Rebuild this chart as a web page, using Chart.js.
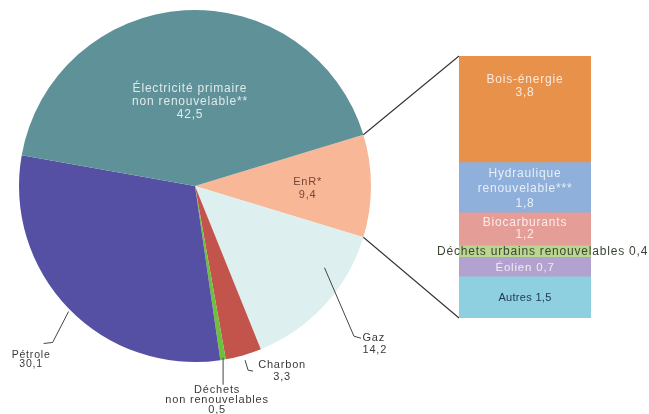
<!DOCTYPE html>
<html lang="fr">
<head>
<meta charset="UTF-8">
<title>Consommation d'énergie primaire</title>
<script src="https://cdn.jsdelivr.net/npm/chart.js"></script>
<style>
  body { margin: 0; background: #fff; }
  #wrap { position: relative; width: 649px; height: 414px; overflow: hidden; }
  #wrap canvas { position: absolute; left: 0; top: 0; }
</style>
</head>
<body>
<div id="wrap">
  <canvas id="pieChart" width="649" height="414"></canvas>
  <canvas id="barChart" width="649" height="414"></canvas>
</div>
<script>
// Répartition de la consommation d'énergie primaire (%)
const pieLabels = ['EnR*', 'Gaz', 'Charbon', 'Déchets\nnon renouvelables', 'Pétrole', 'Électricité primaire\nnon renouvelable**'];
const pieValues = [9.4, 14.2, 3.3, 0.5, 30.1, 42.5];
const pieColors = ['#f8b897', '#ddefef', '#c2544c', '#6fbf3f', '#5650a5', '#5f9199'];

// Détail des énergies renouvelables (%)
const enrLabels = ['Bois-énergie', 'Hydraulique\nrenouvelable***', 'Biocarburants', 'Déchets urbains renouvelables', 'Éolien', 'Autres'];
const enrValues = [3.8, 1.8, 1.2, 0.4, 0.7, 1.5];
const enrColors = ['#e8914b', '#8eb0db', '#e59d97', '#b9d78e', '#b3a2cf', '#8ecfe0'];

const FONT = '"Liberation Sans", Arial, sans-serif';
const LIGHT = 'rgba(255,255,255,0.8)';
const DARK = '#3a3a3a';

Chart.defaults.font.family = FONT;

function fr(v) {
    return v.toFixed(1).replace('.', ',');
}

function sum(arr) {
    return arr.reduce((a, b) => a + b, 0);
}

// écrit plusieurs lignes, la première à y
function drawLines(ctx, lines, x, y, lh, align) {
    ctx.textAlign = align || 'center';
    ctx.textBaseline = 'middle';
    lines.forEach((t, i) => ctx.fillText(t, x, y + i * lh));
}

// placement des étiquettes du camembert (même ordre que pieValues)
const pieLabelStyle = [
    { inside: true, rf: 0.64, dy: 2, color: '#76463a', lh: 13 },
    { at: 0.3, rf: 0.87, path: [[0, 0], [29.5, 68.5], [36.5, 70.5]], tx: 38, ty: 70.5, align: 'left', lh: 11.5 },
    { at: 0.5, rf: 1, path: [[1.5, 5], [4.5, 15], [9.5, 16]], tx: 38.5, ty: 10, lh: 12 },
    { at: 0.5, rf: 1, path: [[0, -2], [0, 25]], tx: -6, ty: 30.5, lh: 10 },
    { at: 0.5, rf: 1, path: [[0, 3], [-16, 34], [-25, 35]], tx: -37.5, ty: 46.5, lh: 9, size: 10.5 },
    { inside: true, rf: 0.48, dy: 0, color: LIGHT, lh: 13, size: 12 }
];

const pieLabelPlugin = {
    id: 'pieLabels',
    afterDatasetsDraw(chart) {
        const ctx = chart.ctx;
        const arcs = chart.getDatasetMeta(0).data;
        ctx.save();
        arcs.forEach((arc, i) => {
            const st = pieLabelStyle[i];
            const lines = pieLabels[i].split('\n').concat(fr(pieValues[i]));
            const f = st.inside ? 0.5 : st.at;
            const ang = arc.startAngle + (arc.endAngle - arc.startAngle) * f;
            const r = arc.outerRadius * st.rf;
            const ax = arc.x + Math.cos(ang) * r;
            const ay = arc.y + Math.sin(ang) * r;
            ctx.font = (st.size || 11) + 'px ' + FONT;
            ctx.letterSpacing = '0.8px';
            ctx.fillStyle = st.color || DARK;
            if (st.inside) {
                const y0 = ay + st.dy - (lines.length - 1) * st.lh / 2;
                drawLines(ctx, lines, ax, y0, st.lh, 'center');
                return;
            }
            ctx.strokeStyle = '#444';
            ctx.lineWidth = 1;
            ctx.beginPath();
            st.path.forEach((p, k) => {
                if (k === 0) ctx.moveTo(ax + p[0], ay + p[1]);
                else ctx.lineTo(ax + p[0], ay + p[1]);
            });
            ctx.stroke();
            drawLines(ctx, lines, ax + st.tx, ay + st.ty, st.lh, st.align);
        });
        ctx.restore();
    }
};

const pieChart = new Chart(document.getElementById('pieChart'), {
    type: 'pie',
    data: {
        labels: pieLabels,
        datasets: [{
            data: pieValues,
            backgroundColor: pieColors,
            borderWidth: 0
        }]
    },
    options: {
        responsive: false,
        animation: false,
        events: [],
        // la part EnR centrée sur l'horizontale, côté droit
        rotation: 90 - (pieValues[0] / sum(pieValues)) * 180,
        layout: { padding: { left: 19, right: 278, top: 10, bottom: 52 } },
        plugins: {
            legend: { display: false },
            tooltip: { enabled: false }
        }
    },
    plugins: [pieLabelPlugin]
});

// étiquettes de la barre EnR
const enrLabelStyle = [
    { top: 24, lh: 13, color: LIGHT, size: 12 },
    { lh: 15, dy: 2, color: LIGHT, size: 12 },
    { lh: 11.5, color: LIGHT, size: 12 },
    { inline: true, left: 437, color: '#3b4536', size: 12 },
    { inline: true, color: LIGHT, size: 11.5 },
    { inline: true, color: '#1f3550', size: 11, spacing: 0.3 }
];

const enrPlugin = {
    id: 'enrDetail',
    beforeDatasetsDraw(chart) {
        // traits reliant la part EnR du camembert à la barre
        const arc = pieChart.getDatasetMeta(0).data[0];
        const first = chart.getDatasetMeta(0).data[0];
        const last = chart.getDatasetMeta(enrValues.length - 1).data[0];
        const left = first.x - first.width / 2;
        const top = Math.min(first.y, first.base);
        const bottom = Math.max(last.y, last.base);
        const ctx = chart.ctx;
        ctx.save();
        ctx.strokeStyle = '#333';
        ctx.lineWidth = 1.1;
        ctx.beginPath();
        ctx.moveTo(arc.x + Math.cos(arc.startAngle) * arc.outerRadius, arc.y + Math.sin(arc.startAngle) * arc.outerRadius);
        ctx.lineTo(left, top);
        ctx.moveTo(arc.x + Math.cos(arc.endAngle) * arc.outerRadius, arc.y + Math.sin(arc.endAngle) * arc.outerRadius);
        ctx.lineTo(left, bottom);
        ctx.stroke();
        ctx.restore();
    },
    afterDatasetsDraw(chart) {
        const ctx = chart.ctx;
        ctx.save();
        enrValues.forEach((v, i) => {
            const el = chart.getDatasetMeta(i).data[0];
            const st = enrLabelStyle[i];
            const segTop = Math.min(el.y, el.base);
            const segBot = Math.max(el.y, el.base);
            ctx.font = st.size + 'px ' + FONT;
            ctx.letterSpacing = (st.spacing !== undefined ? st.spacing : 0.8) + 'px';
            ctx.fillStyle = st.color;
            if (st.inline) {
                const text = enrLabels[i] + ' ' + fr(v);
                const y = (segTop + segBot) / 2 + 1;
                if (st.left !== undefined) drawLines(ctx, [text], st.left, y, 0, 'left');
                else drawLines(ctx, [text], el.x, y, 0, 'center');
                return;
            }
            const lines = enrLabels[i].split('\n').concat(fr(v));
            let y0;
            if (st.top !== undefined) y0 = segTop + st.top;
            else y0 = (segTop + segBot) / 2 + (st.dy || 0) - (lines.length - 1) * st.lh / 2;
            drawLines(ctx, lines, el.x, y0, st.lh, 'center');
        });
        ctx.restore();
    }
};

const barChart = new Chart(document.getElementById('barChart'), {
    type: 'bar',
    data: {
        labels: ['EnR'],
        datasets: enrValues.map((v, i) => ({
            label: enrLabels[i],
            data: [v],
            backgroundColor: enrColors[i],
            borderWidth: 0,
            barPercentage: 1,
            categoryPercentage: 1
        }))
    },
    options: {
        responsive: false,
        animation: false,
        events: [],
        layout: { padding: { left: 459, right: 58, top: 56, bottom: 96 } },
        scales: {
            x: { stacked: true, display: false },
            y: { stacked: true, display: false, min: 0, max: sum(enrValues), reverse: true }
        },
        plugins: {
            legend: { display: false },
            tooltip: { enabled: false }
        }
    },
    plugins: [enrPlugin]
});
</script>
</body>
</html>
